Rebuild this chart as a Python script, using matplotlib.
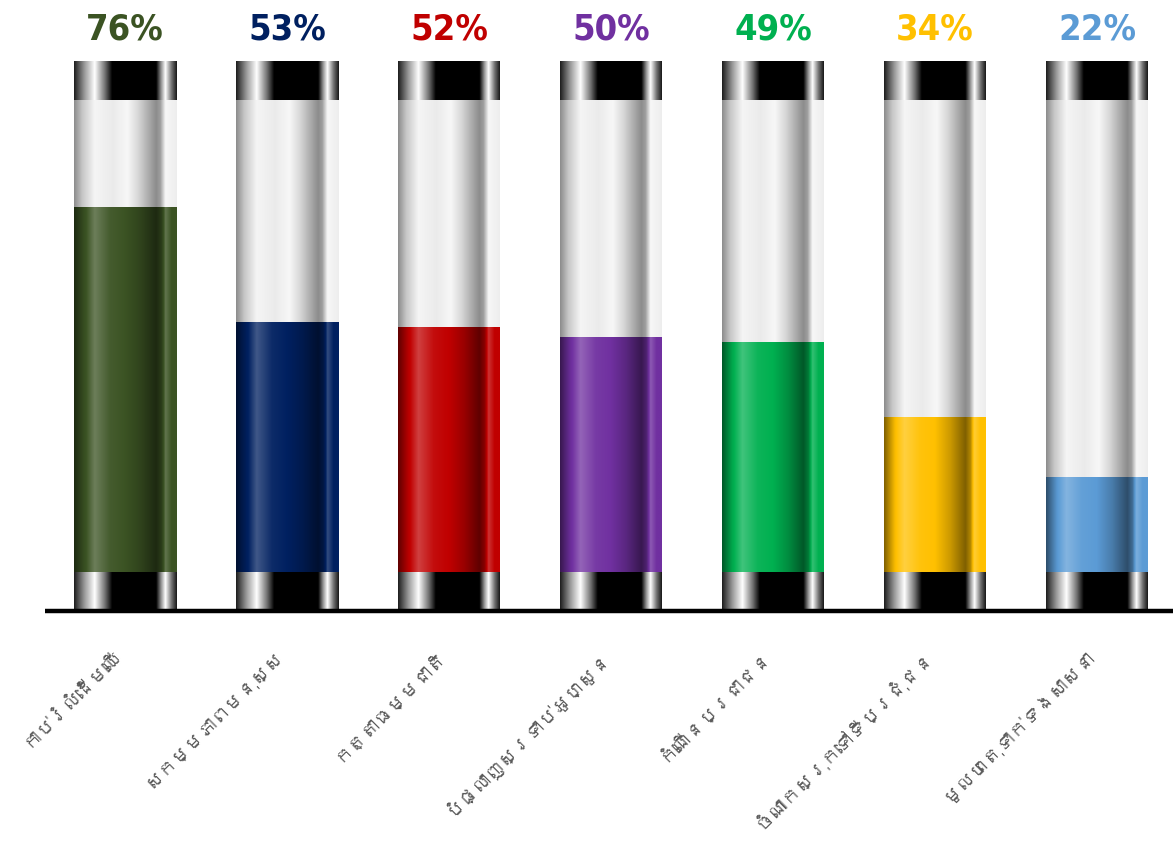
import matplotlib
matplotlib.use("Agg")
import matplotlib.pyplot as plt
from matplotlib import font_manager
from matplotlib.ft2font import FT2Font
import numpy as np

# data
categories = ["កាប់រំលំដើមឈើ", "សកម្មភាពមនុស្ស", "កត្តាធម្មជាតិ",
              "បំផ្លាញស្រទាប់អូហ្សូន", "កំណើនប្រជាជន",
              "ចំណាកស្រុកទៅទីប្រជុំជន", "មូលហេតុទាក់ទងសាសនា"]
values = [76, 53, 52, 50, 49, 34, 22]
colors = ["#3B5323", "#002060", "#C00000", "#7030A0", "#00B050", "#FFC000", "#5B9BD5"]


def khmer_font():
    # look for any installed font that covers the Khmer block
    for f in font_manager.fontManager.ttflist:
        try:
            if 0x1780 in FT2Font(f.fname).get_charmap():
                return f.name
        except Exception:
            pass
    return None


kh = khmer_font()
label_family = [kh, "DejaVu Sans"] if kh else ["DejaVu Sans"]


def profile(stops, n=200):
    t = np.linspace(0, 1, n)
    xs, ys = zip(*stops)
    return np.interp(t, xs, ys)


# horizontal shading of the cylinder (x fraction, level)
glass = profile([(0, 0.55), (0.08, 0.78), (0.2, 0.96), (0.38, 0.92), (0.52, 0.97),
                 (0.62, 0.85), (0.8, 0.55), (0.84, 0.62), (0.89, 0.97), (1.0, 0.93)])
cap = profile([(0, 0.12), (0.1, 0.6), (0.2, 1.0), (0.3, 0.45), (0.37, 0.0),
               (0.8, 0.0), (0.85, 0.6), (0.89, 1.0), (0.95, 0.45), (1.0, 0.1)])
tint = profile([(0, -0.5), (0.1, -0.05), (0.2, 0.25), (0.35, 0.05), (0.5, 0.0),
                (0.65, -0.2), (0.8, -0.5), (0.85, -0.3), (0.89, 0.2), (0.95, 0.0), (1.0, 0.0)])


def gray_img(p):
    return np.repeat(p[None, :, None], 3, axis=2)


def tinted_img(hexcol):
    base = np.array(matplotlib.colors.to_rgb(hexcol))
    rows = []
    for k in tint:
        if k >= 0:
            rows.append(base + (1 - base) * k)
        else:
            rows.append(base * (1 + k))
    return np.array(rows)[None, :, :]


fig = plt.figure(figsize=(11.73, 8.41), dpi=100)
ax = fig.add_axes([0, (841 - 611) / 841, 1, 611 / 841])
ax.set_xlim(-125 / 162, (1173 - 125) / 162)
ax.set_ylim(-4.8, 117.4)
ax.axis("off")

w = 102 / 162
for i, (v, c) in enumerate(zip(values, colors)):
    x0, x1 = i - w / 2, i + w / 2
    ax.imshow(gray_img(glass), extent=[x0, x1, 0, 100], aspect="auto", zorder=1)
    ax.imshow(tinted_img(c), extent=[x0, x1, 0, v], aspect="auto", zorder=2)
    ax.imshow(gray_img(cap), extent=[x0, x1, -4.6, 3.0], aspect="auto", zorder=3)
    ax.imshow(gray_img(cap), extent=[x0, x1, 97.4, 105.2], aspect="auto", zorder=3)
    ax.text(i, 111.6, f"{v}%", color=c, fontsize=26, fontweight="bold",
            fontstretch="condensed",
            family=["DejaVu Sans"], ha="center", va="center")

ax.plot([45 / 162 - 125 / 162, (1173 - 125) / 162], [-4.8, -4.8], color="black",
        lw=3.2, solid_capstyle="butt", zorder=4, clip_on=False)

for i, lab in enumerate(categories):
    ax.annotate(lab, xy=(i, -4.8), xytext=(-12, -36), textcoords="offset pixels",
                rotation=45, rotation_mode="anchor", ha="right", va="top",
                fontsize=13.5, fontweight="bold", color="#595959", family=label_family,
                annotation_clip=False)

fig.savefig("out.png", dpi=100)
